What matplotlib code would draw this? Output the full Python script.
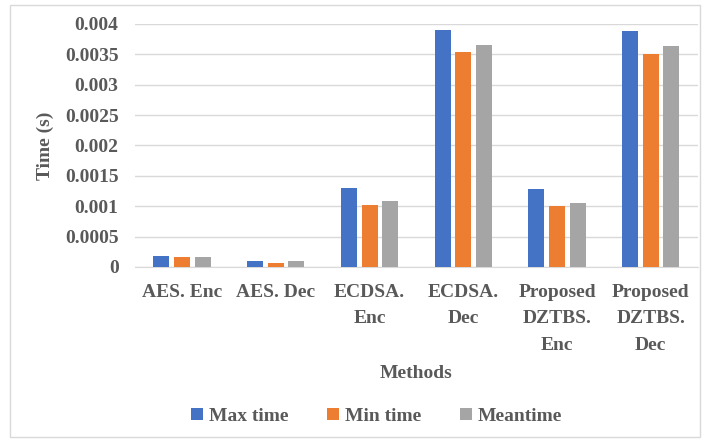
import numpy as np
import matplotlib.pyplot as plt
from matplotlib.patches import Rectangle

# Data
methods = ["AES. Enc", "AES. Dec", "ECDSA.\nEnc", "ECDSA.\nDec",
           "Proposed\nDZTBS.\nEnc", "Proposed\nDZTBS.\nDec"]
max_time = [0.00018, 0.00010, 0.00130, 0.00390, 0.00128, 0.00388]
min_time = [0.00016, 0.00007, 0.00102, 0.00353, 0.00100, 0.00351]
mean_time = [0.00017, 0.00009, 0.00108, 0.00366, 0.00106, 0.00364]

yticks = [0, 0.0005, 0.001, 0.0015, 0.002, 0.0025, 0.003, 0.0035, 0.004]
ylabels = ["0", "0.0005", "0.001", "0.0015", "0.002", "0.0025", "0.003", "0.0035", "0.004"]

plt.rcParams['font.family'] = ['Liberation Serif', 'DejaVu Serif']
txt = "#595959"
fs = 14

fig = plt.figure(figsize=(7.04, 4.42), dpi=100)
ax = fig.add_axes([0.192, 0.396, 0.799, 0.55])

x = np.arange(len(methods))
w = 0.17
step = 0.22
ax.bar(x - step, max_time, w, color="#4472c4", label="Max time", zorder=3)
ax.bar(x, min_time, w, color="#ed7d31", label="Min time", zorder=3)
ax.bar(x + step, mean_time, w, color="#a5a5a5", label="Meantime", zorder=3)

ax.set_xlim(-0.5, len(methods) - 0.5)
ax.set_ylim(0, 0.004)
ax.set_yticks(yticks)
ax.set_yticklabels(ylabels)
ax.set_xticks(x)
ax.set_xticklabels(methods, linespacing=1.75)
ax.grid(axis="y", color="#d9d9d9", linewidth=1, zorder=0)
for s in ["top", "right", "left"]:
    ax.spines[s].set_visible(False)
ax.spines["bottom"].set_color("#d9d9d9")
ax.tick_params(length=0, labelsize=fs, labelcolor=txt)
for lab in ax.get_xticklabels() + ax.get_yticklabels():
    lab.set_fontweight("bold")
ax.tick_params(axis="y", pad=12)
ax.tick_params(axis="x", pad=12)

ax.set_ylabel("Time (s)", fontsize=fs, fontweight="bold", color=txt)
ax.yaxis.set_label_coords(-0.145, 0.5)
ax.set_xlabel("Methods", fontsize=fs, fontweight="bold", color=txt, labelpad=8)

leg = fig.legend(loc="center", bbox_to_anchor=(0.535, 0.058), ncol=3, frameon=False,
                 handlelength=0.6, handleheight=0.6, handletextpad=0.3, columnspacing=2.0,
                 prop={"weight": "bold", "size": fs})
for t in leg.get_texts():
    t.set_color(txt)

fig.patches.append(Rectangle((10/704, 5/442), 690/704, 432/442, transform=fig.transFigure,
                             fill=False, edgecolor="#d9d9d9", linewidth=1))

fig.savefig("out.png", dpi=100)
